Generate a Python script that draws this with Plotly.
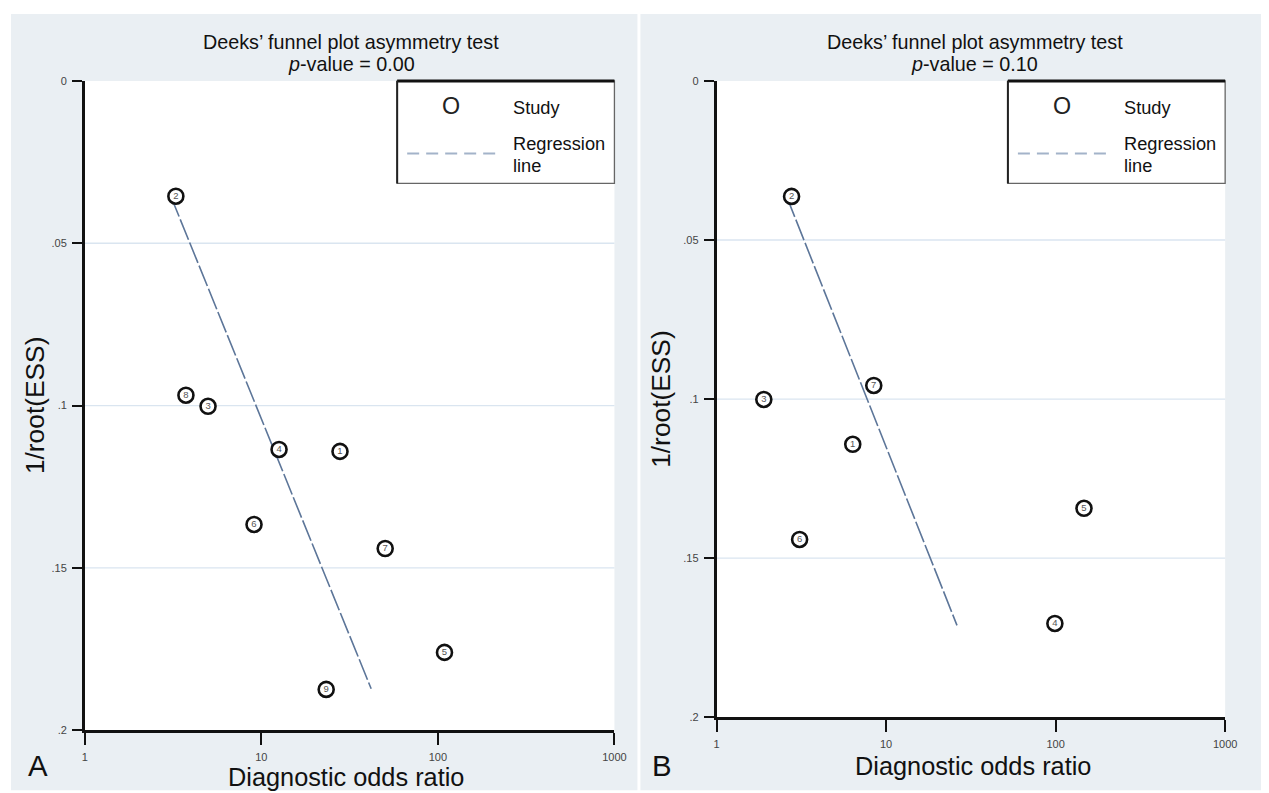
import plotly.graph_objects as go

W, H = 1269, 793
FONT = "Liberation Sans, Arial, sans-serif"

# page-pixel -> figure-pixel calibration (body margin and photo scaling)
SX, CX = 0.987, 2.4
SY, CY = 0.985, 5.7
BODY = 8

# ---------------- data ----------------
x_ticks = [1, 10, 100, 1000]
x_ticklabels = ["1", "10", "100", "1000"]
y_ticks = [0, 0.05, 0.1, 0.15, 0.2]
y_ticklabels = ["0", ".05", ".1", ".15", ".2"]

# Panel A
study_a = ["1", "2", "3", "4", "5", "6", "7", "8", "9"]
dor_a = [27.9, 3.28, 4.99, 12.6, 109, 9.09, 50.3, 3.74, 23.3]
ess_a = [0.1141, 0.0355, 0.1002, 0.1135, 0.1760, 0.1366, 0.1440, 0.0968, 0.1874]
reg_dor_a = [3.07, 41.9]
reg_ess_a = [0.0355, 0.1872]
pval_a = "0.00"

# Panel B
study_b = ["1", "2", "3", "4", "5", "6", "7"]
dor_b = [6.36, 2.77, 1.90, 99, 147, 3.09, 8.46]
ess_b = [0.1142, 0.0363, 0.1001, 0.1705, 0.1343, 0.1441, 0.0957]
reg_dor_b = [2.59, 26.2]
reg_ess_b = [0.0363, 0.1711]
pval_b = "0.10"

title_text = "Deeks’ funnel plot asymmetry test"
xtitle = "Diagnostic odds ratio"
ytitle = "1/root(ESS)"


def fx(p):
    v = ((p - CX) / SX - BODY) / W
    return min(max(v, 0), 1)


def fy(p):
    v = 1 - ((p - CY) / SY - BODY) / H
    return min(max(v, 0), 1)


K = 1 / SX  # size compensation

BG = "#eaeff3"
GRID = "#dae5f0"
REG = "#5d7699"

fig = go.Figure()

panels = [
    dict(xa="x", ya="y", dor=dor_a, ess=ess_a, ids=study_a, rdor=reg_dor_a, ress=reg_ess_a,
         pval=pval_a, label="A",
         gray=(9, 636), plot=(84, 613, 80.5, 730), legend=(396, 613, 80.5, 183),
         title_x=350, xt=(345, 777), yt=(35, 405), lab=(37, 765)),
    dict(xa="x2", ya="y2", dor=dor_b, ess=ess_b, ids=study_b, rdor=reg_dor_b, ress=reg_ess_b,
         pval=pval_b, label="B",
         gray=(639, 1266), plot=(715, 1223, 80.5, 717), legend=(1006, 1223, 80.5, 183),
         title_x=973, xt=(971, 766), yt=(660, 398), lab=(661, 765)),
]

shapes = []
annotations = []

for p in panels:
    # regression line
    fig.add_trace(go.Scatter(
        x=p["rdor"], y=p["ress"], mode="lines", xaxis=p["xa"], yaxis=p["ya"],
        line=dict(color=REG, width=1.6, dash="22px,3px"), showlegend=False, hoverinfo="skip"))
    # studies
    fig.add_trace(go.Scatter(
        x=p["dor"], y=p["ess"], mode="markers+text", xaxis=p["xa"], yaxis=p["ya"],
        text=p["ids"], textposition="middle center",
        textfont=dict(size=9.5, color="#555", family=FONT),
        marker=dict(symbol="circle", size=15, color="white", line=dict(color="#111", width=2.6)),
        showlegend=False))

    g0, g1 = p["gray"]
    shapes.append(dict(type="rect", xref="paper", yref="paper", x0=fx(g0), x1=fx(g1),
                       y0=fy(790), y1=fy(12), fillcolor=BG, line=dict(width=0), layer="below"))
    l, r, t, b = p["plot"]
    shapes.append(dict(type="rect", xref="paper", yref="paper", x0=fx(l), x1=fx(r),
                       y0=fy(b), y1=fy(t), fillcolor="white", line=dict(width=0), layer="below"))
    # gridlines (interior ticks)
    xd = "x domain" if p["xa"] == "x" else "x2 domain"
    for v in y_ticks[1:-1]:
        shapes.append(dict(type="line", xref=xd, yref=p["ya"], x0=0, x1=1, y0=v, y1=v,
                           line=dict(color=GRID, width=1.3), layer="below"))

    # legend box
    L0, L1, T0, T1 = p["legend"]
    shapes.append(dict(type="rect", xref="paper", yref="paper", x0=fx(L0), x1=fx(L1),
                       y0=fy(T1), y1=fy(T0), fillcolor="white",
                       line=dict(color="#666", width=1.3), layer="above"))
    shapes.append(dict(type="line", xref="paper", yref="paper", x0=fx(L0), x1=fx(L1),
                       y0=fy(T0), y1=fy(T0), line=dict(color="#111", width=3), layer="above"))
    shapes.append(dict(type="line", xref="paper", yref="paper", x0=fx(L0), x1=fx(L0),
                       y0=fy(T1), y1=fy(T0), line=dict(color="#222", width=2), layer="above"))
    shapes.append(dict(type="line", xref="paper", yref="paper", x0=fx(L0 + 10), x1=fx(L0 + 100),
                       y0=fy(153), y1=fy(153), line=dict(color="#a3b3c9", width=2, dash="12px,7px"),
                       layer="above"))
    annotations += [
        dict(x=fx(L0 + 54), y=fy(106), text="O", font=dict(size=23 * K, color="#222", family=FONT)),
        dict(x=fx(L0 + 114), y=fy(107), text="Study", xanchor="left",
             font=dict(size=18 * K, color="#111", family=FONT)),
        dict(x=fx(L0 + 114), y=fy(143), text="Regression", xanchor="left",
             font=dict(size=18 * K, color="#111", family=FONT)),
        dict(x=fx(L0 + 114), y=fy(165), text="line", xanchor="left",
             font=dict(size=18 * K, color="#111", family=FONT)),
    ]

    # titles & labels
    annotations += [
        dict(x=fx(p["title_x"]), y=fy(42), text=title_text,
             font=dict(size=19.5 * K, color="#111", family=FONT)),
        dict(x=fx(p["title_x"]), y=fy(64), text="<i>p</i>-value = " + p["pval"],
             font=dict(size=19.5 * K, color="#111", family=FONT)),
        dict(x=fx(p["xt"][0]), y=fy(p["xt"][1]), text=xtitle,
             font=dict(size=25 * K, color="#111", family=FONT)),
        dict(x=fx(p["yt"][0]), y=fy(p["yt"][1]), text=ytitle, textangle=-90,
             font=dict(size=26 * K, color="#111", family=FONT)),
        dict(x=fx(p["lab"][0]), y=fy(p["lab"][1]), text=p["label"],
             font=dict(size=29 * K, color="#111", family=FONT)),
    ]

for a in annotations:
    a.update(xref="paper", yref="paper", showarrow=False)
    a.setdefault("xanchor", "center")
    a.setdefault("yanchor", "middle")

xaxis_common = dict(type="log", range=[0, 3], tickmode="array", tickvals=x_ticks, ticktext=x_ticklabels,
                    ticks="outside", ticklen=12, tickwidth=2, tickcolor="#111",
                    showline=True, linewidth=2.5, linecolor="#111", showgrid=False, zeroline=False,
                    tickfont=dict(size=11, color="#444", family=FONT), ticklabelstandoff=3,
                    fixedrange=True)
yaxis_common = dict(range=[0.2, 0], tickmode="array", tickvals=y_ticks, ticktext=y_ticklabels,
                    ticks="outside", ticklen=10, tickwidth=2, tickcolor="#111",
                    showline=True, linewidth=2.5, linecolor="#111", showgrid=False, zeroline=False,
                    tickfont=dict(size=11, color="#444", family=FONT), ticklabelstandoff=3,
                    fixedrange=True)

A, B = panels
fig.update_layout(
    width=W, height=H, autosize=False,
    margin=dict(l=0, r=0, t=0, b=0),
    paper_bgcolor="white", plot_bgcolor="white",
    showlegend=False,
    xaxis=dict(domain=[fx(A["plot"][0]), fx(A["plot"][1])], anchor="y", **xaxis_common),
    yaxis=dict(domain=[fy(A["plot"][3]), fy(A["plot"][2])], anchor="x", **yaxis_common),
    xaxis2=dict(domain=[fx(B["plot"][0]), fx(B["plot"][1])], anchor="y2", **xaxis_common),
    yaxis2=dict(domain=[fy(B["plot"][3]), fy(B["plot"][2])], anchor="x2", **yaxis_common),
    shapes=shapes,
    annotations=annotations,
    font=dict(family=FONT),
)

fig.write_html("out.html")
